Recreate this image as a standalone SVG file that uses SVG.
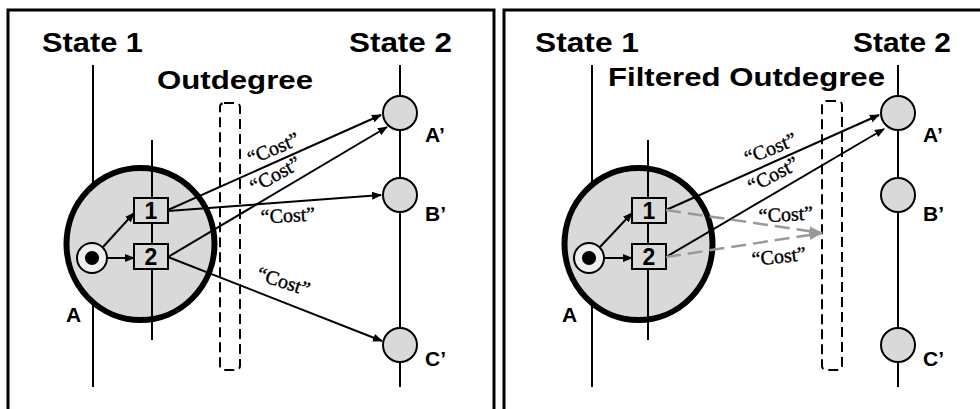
<svg xmlns="http://www.w3.org/2000/svg" width="980" height="409" viewBox="0 0 980 409">
<defs>
<marker id="ah" markerWidth="10" markerHeight="8" refX="9" refY="4" orient="auto" markerUnits="userSpaceOnUse">
<path d="M0,0 L10,4 L0,8 z" fill="#000"/>
</marker>
<marker id="ahg" markerWidth="14" markerHeight="10" refX="13" refY="5" orient="auto" markerUnits="userSpaceOnUse">
<path d="M0,0 L14,5 L0,10 z" fill="#999"/>
</marker>
<style>
.frame{fill:none;stroke:#000;stroke-width:3}
.sline{stroke:#000;stroke-width:2;fill:none}
.big{fill:#d9d9d9;stroke:#000;stroke-width:6}
.node{fill:#d9d9d9;stroke:#000;stroke-width:2}
.box{fill:#d9d9d9;stroke:#000;stroke-width:2}
.init{fill:#eeeeee;stroke:#000;stroke-width:2}
.dash{fill:none;stroke:#000;stroke-width:2;stroke-dasharray:10 5}
.edge{stroke:#000;stroke-width:2;fill:none;marker-end:url(#ah)}
.gedge{stroke:#999;stroke-width:2.5;fill:none;stroke-dasharray:15 7;marker-end:url(#ahg)}
.title{font-family:"Liberation Sans",Arial,sans-serif;font-size:28px;font-weight:bold;fill:#000}
.sub{font-family:"Liberation Sans",Arial,sans-serif;font-size:25px;font-weight:bold;fill:#000}
.lbl{font-family:"Liberation Sans",Arial,sans-serif;font-size:21px;font-weight:bold;fill:#000}
.num{font-family:"Liberation Sans",Arial,sans-serif;font-size:23px;font-weight:bold;fill:#000;text-anchor:middle}
.cost{font-family:"Liberation Serif","Times New Roman",serif;font-size:20px;fill:#000;stroke:#000;stroke-width:0.4;text-anchor:middle}
</style>
</defs>

<g id="frames">
<path class="frame" d="M8,409 V10 H494 V409"/>
<path class="frame" d="M504,409 V10 H985"/>
</g>

<!-- LEFT PANEL -->
<g id="left-titles">
<text class="title" x="42" y="52" textLength="101" lengthAdjust="spacingAndGlyphs">State 1</text>
<text class="title" x="349" y="52" textLength="103" lengthAdjust="spacingAndGlyphs">State 2</text>
<text class="sub" x="157" y="89" textLength="156" lengthAdjust="spacingAndGlyphs">Outdegree</text>
</g>

<g id="left-lines">
<line class="sline" x1="93" y1="65" x2="93" y2="387"/>
<line class="sline" x1="400" y1="65" x2="400" y2="387"/>
</g>

<g id="left-A">
<ellipse class="big" cx="140.5" cy="244" rx="74" ry="76"/>
<line class="sline" x1="152" y1="140" x2="152" y2="340"/>
<text class="lbl" x="66" y="322">A</text>
</g>

<g id="left-filter">
<rect class="dash" x="220" y="103" width="20" height="267" rx="4"/>
</g>

<g id="left-init">
<circle class="init" cx="92" cy="258" r="15"/>
<circle cx="92" cy="258" r="7" fill="#000"/>
</g>
<g id="left-box1">
<rect class="box" x="134" y="198" width="34" height="25"/>
<text class="num" x="151" y="219">1</text>
</g>
<g id="left-box2">
<rect class="box" x="134" y="244" width="34" height="25"/>
<text class="num" x="151" y="265">2</text>
</g>

<g id="left-Ap">
<circle class="node" cx="400" cy="113" r="17"/>
<text class="lbl" x="425" y="142">A’</text>
</g>
<g id="left-Bp">
<circle class="node" cx="400" cy="195" r="17"/>
<text class="lbl" x="425" y="221">B’</text>
</g>
<g id="left-Cp">
<circle class="node" cx="400" cy="345" r="17"/>
<text class="lbl" x="425" y="366">C’</text>
</g>

<g id="left-connectors">
<line class="edge" x1="103" y1="247" x2="134" y2="213"/>
<line class="edge" x1="107" y1="258" x2="134" y2="258"/>
<line class="edge" x1="168" y1="210" x2="381" y2="115"/>
<line class="edge" x1="168" y1="257" x2="387" y2="127"/>
<line class="edge" x1="168" y1="211" x2="381" y2="195"/>
<line class="edge" x1="168" y1="257" x2="382" y2="341"/>
<text class="cost" transform="translate(274,150) rotate(-23)" x="0" y="5">“Cost”</text>
<text class="cost" transform="translate(276,176) rotate(-29)" x="0" y="5">“Cost”</text>
<text class="cost" transform="translate(288,217) rotate(-3)" x="0" y="5">“Cost”</text>
<text class="cost" transform="translate(283,283) rotate(18)" x="0" y="5">“Cost”</text>
</g>

<!-- RIGHT PANEL -->
<g id="right-titles">
<text class="title" x="535" y="52" textLength="104" lengthAdjust="spacingAndGlyphs">State 1</text>
<text class="title" x="853" y="52" textLength="98" lengthAdjust="spacingAndGlyphs">State 2</text>
<text class="sub" x="608" y="86" textLength="277" lengthAdjust="spacingAndGlyphs">Filtered Outdegree</text>
</g>

<g id="right-lines">
<line class="sline" x1="592" y1="65" x2="592" y2="387"/>
<line class="sline" x1="898" y1="65" x2="898" y2="387"/>
</g>

<g id="right-A">
<ellipse class="big" cx="638.5" cy="244" rx="74" ry="76"/>
<line class="sline" x1="648" y1="140" x2="648" y2="340"/>
<text class="lbl" x="562" y="322">A</text>
</g>

<g id="right-filter">
<rect class="dash" x="822" y="101" width="20" height="269" rx="4"/>
</g>

<g id="right-init">
<circle class="init" cx="589" cy="258" r="15"/>
<circle cx="589" cy="258" r="7" fill="#000"/>
</g>
<g id="right-box1">
<rect class="box" x="632" y="198" width="34" height="25"/>
<text class="num" x="649" y="219">1</text>
</g>
<g id="right-box2">
<rect class="box" x="632" y="244" width="34" height="25"/>
<text class="num" x="649" y="265">2</text>
</g>

<g id="right-Ap">
<circle class="node" cx="898" cy="113" r="17"/>
<text class="lbl" x="923" y="142">A’</text>
</g>
<g id="right-Bp">
<circle class="node" cx="898" cy="195" r="17"/>
<text class="lbl" x="923" y="221">B’</text>
</g>
<g id="right-Cp">
<circle class="node" cx="898" cy="345" r="17"/>
<text class="lbl" x="923" y="366">C’</text>
</g>

<g id="right-connectors">
<line class="edge" x1="600" y1="247" x2="632" y2="213"/>
<line class="edge" x1="604" y1="258" x2="632" y2="258"/>
<line class="edge" x1="666" y1="210" x2="879" y2="115"/>
<line class="edge" x1="666" y1="257" x2="884" y2="129"/>
<line class="gedge" x1="666" y1="210" x2="822" y2="233"/>
<line class="gedge" x1="666" y1="257" x2="822" y2="233"/>
<text class="cost" transform="translate(771,150) rotate(-22)" x="0" y="5">“Cost”</text>
<text class="cost" transform="translate(774,176) rotate(-28)" x="0" y="5">“Cost”</text>
<text class="cost" transform="translate(786,216) rotate(-3)" x="0" y="5">“Cost”</text>
<text class="cost" transform="translate(779,258) rotate(-6)" x="0" y="5">“Cost”</text>
</g>
</svg>
